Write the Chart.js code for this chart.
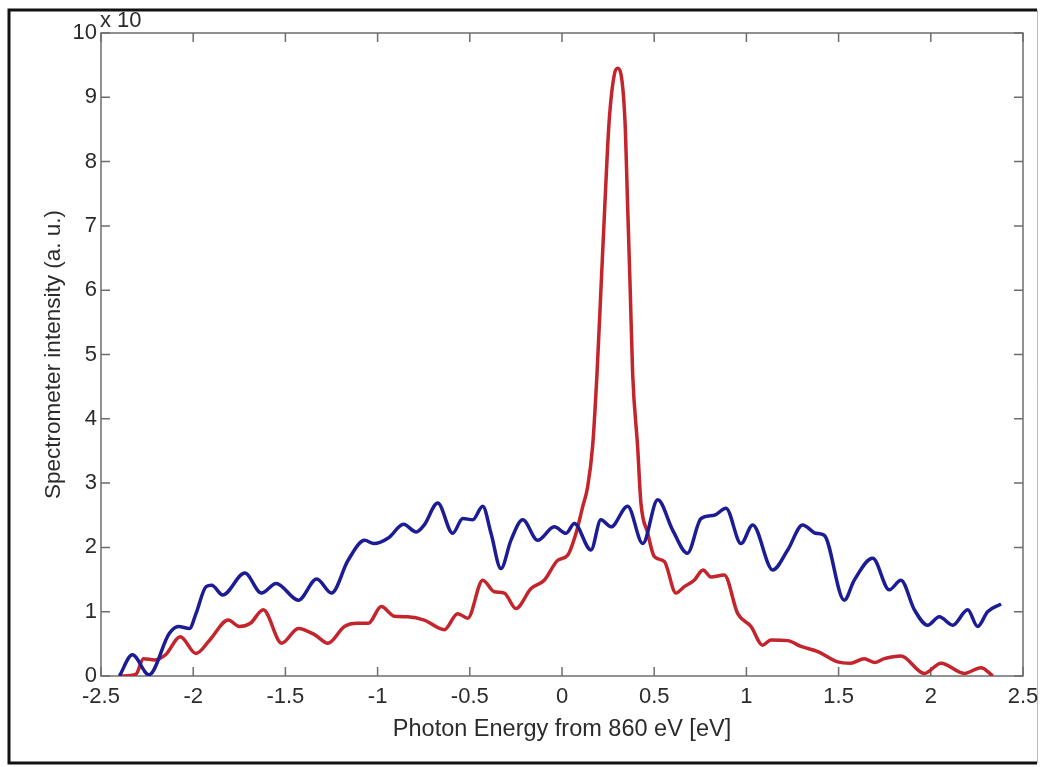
<!DOCTYPE html>
<html>
<head>
<meta charset="utf-8">
<script src="https://cdn.jsdelivr.net/npm/chart.js@4.4.1/dist/chart.umd.min.js"></script>
<style>
  html, body { margin: 0; padding: 0; background: #fff; }
  canvas { display: block; }
</style>
</head>
<body>
<canvas id="c" width="1040" height="767"></canvas>
<script>
// ---- data ----
const xTicks = [-2.5, -2, -1.5, -1, -0.5, 0, 0.5, 1, 1.5, 2, 2.5];
const xTickLabels = ['-2.5', '-2', '-1.5', '-1', '-0.5', '0', '0.5', '1', '1.5', '2', '2.5'];
const yTicks = [0, 1, 2, 3, 4, 5, 6, 7, 8, 9, 10];
const yTickLabels = ['0', '1', '2', '3', '4', '5', '6', '7', '8', '9', '10'];

const blueX = [-2.40, -2.33, -2.24, -2.13, -2.08, -2.02, -1.985, -1.93, -1.90, -1.84, -1.72, -1.63, -1.55, -1.43, -1.33, -1.25, -1.16, -1.07, -1.02, -0.94, -0.86, -0.79, -0.747, -0.674, -0.593, -0.538, -0.484, -0.43, -0.385, -0.331, -0.277, -0.213, -0.132, -0.042, 0.022, 0.067, 0.157, 0.211, 0.266, 0.356, 0.438, 0.519, 0.60, 0.68, 0.754, 0.826, 0.889, 0.971, 1.034, 1.143, 1.224, 1.305, 1.377, 1.422, 1.531, 1.585, 1.685, 1.775, 1.838, 1.911, 1.983, 2.046, 2.119, 2.20, 2.254, 2.308, 2.381];
const blueY = [0.00, 0.33, 0.02, 0.66, 0.77, 0.74, 0.97, 1.39, 1.41, 1.26, 1.60, 1.29, 1.44, 1.18, 1.51, 1.29, 1.80, 2.11, 2.06, 2.15, 2.36, 2.24, 2.35, 2.69, 2.22, 2.45, 2.43, 2.64, 2.22, 1.67, 2.11, 2.43, 2.11, 2.32, 2.22, 2.37, 1.96, 2.43, 2.32, 2.64, 2.06, 2.74, 2.27, 1.91, 2.45, 2.50, 2.61, 2.06, 2.35, 1.65, 1.96, 2.35, 2.22, 2.19, 1.18, 1.49, 1.83, 1.34, 1.49, 1.03, 0.79, 0.92, 0.79, 1.03, 0.77, 1.00, 1.12];

const redX = [-2.39, -2.31, -2.27, -2.21, -2.15, -2.07, -1.985, -1.91, -1.81, -1.75, -1.69, -1.62, -1.52, -1.43, -1.34, -1.27, -1.18, -1.11, -1.05, -0.98, -0.91, -0.837, -0.747, -0.638, -0.566, -0.511, -0.43, -0.367, -0.313, -0.25, -0.168, -0.096, -0.023, 0.031, 0.076, 0.112, 0.139, 0.166, 0.19, 0.211, 0.232, 0.255, 0.285, 0.302, 0.319, 0.342, 0.356, 0.37, 0.383, 0.41, 0.428, 0.465, 0.50, 0.555, 0.618, 0.663, 0.717, 0.765, 0.808, 0.88, 0.953, 1.025, 1.088, 1.133, 1.224, 1.296, 1.387, 1.495, 1.567, 1.639, 1.694, 1.748, 1.838, 1.965, 2.055, 2.182, 2.272, 2.336];
const redY = [0.00, 0.03, 0.27, 0.25, 0.33, 0.61, 0.35, 0.56, 0.87, 0.77, 0.82, 1.03, 0.51, 0.74, 0.64, 0.51, 0.77, 0.82, 0.82, 1.08, 0.93, 0.92, 0.87, 0.72, 0.97, 0.90, 1.49, 1.31, 1.29, 1.05, 1.36, 1.49, 1.80, 1.88, 2.22, 2.63, 2.94, 3.57, 4.71, 6.00, 7.30, 8.60, 9.37, 9.45, 9.37, 8.60, 7.30, 6.00, 4.71, 3.57, 2.69, 2.22, 1.86, 1.78, 1.29, 1.39, 1.49, 1.65, 1.54, 1.57, 0.97, 0.77, 0.48, 0.56, 0.55, 0.46, 0.38, 0.22, 0.20, 0.27, 0.21, 0.27, 0.31, 0.04, 0.20, 0.04, 0.13, 0.00];

const xTitle = 'Photon Energy from 860 eV [eV]';
const yTitle = 'Spectrometer intensity (a. u.)';
const exponentText = 'x 10';

// ---- build ----
const toPts = (xs, ys) => xs.map((x, i) => ({ x: x, y: ys[i] }));
const FONT = '"Liberation Sans", Arial, Helvetica, sans-serif';
const TEXT = '#2b2b2b';
const AXIS = '#6e6e6e';

const boxPlugin = {
  id: 'matlabBox',
  beforeDraw(chart) {
    const ctx = chart.ctx;
    ctx.save();
    ctx.fillStyle = '#ffffff';
    ctx.fillRect(0, 0, chart.width, chart.height);
    // outer frame
    ctx.strokeStyle = '#111';
    ctx.lineWidth = 3;
    ctx.beginPath();
    ctx.moveTo(1037, 10); ctx.lineTo(9, 10); ctx.lineTo(9, 763); ctx.lineTo(1037, 763);
    ctx.stroke();
    ctx.strokeStyle = '#bbb';
    ctx.lineWidth = 1;
    ctx.beginPath();
    ctx.moveTo(1037.5, 10); ctx.lineTo(1037.5, 763);
    ctx.stroke();
    ctx.restore();
  },
  beforeDatasetsDraw(chart) {
    const ctx = chart.ctx;
    const a = chart.chartArea;
    const xs = chart.scales.x, ys = chart.scales.y;
    ctx.save();
    ctx.strokeStyle = AXIS;
    ctx.lineWidth = 1.5;
    ctx.strokeRect(a.left, a.top, a.right - a.left, a.bottom - a.top);
    const tl = 9;
    ctx.beginPath();
    xs.ticks.forEach(t => {
      const px = xs.getPixelForValue(t.value);
      ctx.moveTo(px, a.bottom); ctx.lineTo(px, a.bottom - tl);
      ctx.moveTo(px, a.top); ctx.lineTo(px, a.top + tl);
    });
    ys.ticks.forEach(t => {
      const py = ys.getPixelForValue(t.value);
      ctx.moveTo(a.left, py); ctx.lineTo(a.left + tl, py);
      ctx.moveTo(a.right, py); ctx.lineTo(a.right - tl, py);
    });
    ctx.stroke();
    // exponent label
    ctx.fillStyle = TEXT;
    ctx.font = '22px ' + FONT;
    ctx.textAlign = 'left';
    ctx.textBaseline = 'alphabetic';
    ctx.fillText(exponentText, a.left - 1, a.top - 6);
    ctx.restore();
  }
};

new Chart(document.getElementById('c'), {
  type: 'line',
  data: {
    datasets: [
      {
        data: toPts(blueX, blueY),
        borderColor: '#1c1c94',
        borderWidth: 3.5,
        pointRadius: 0,
        fill: false,
        cubicInterpolationMode: 'monotone'
      },
      {
        data: toPts(redX, redY),
        borderColor: '#c4242b',
        borderWidth: 3.5,
        pointRadius: 0,
        fill: false,
        cubicInterpolationMode: 'monotone'
      }
    ]
  },
  options: {
    responsive: false,
    animation: false,
    events: [],
    layout: { padding: { left: 0, top: 33, right: 17, bottom: 0 } },
    plugins: { legend: { display: false }, tooltip: { enabled: false } },
    scales: {
      x: {
        type: 'linear',
        position: 'bottom',
        min: -2.5,
        max: 2.5,
        afterBuildTicks(s) { s.ticks = xTicks.map(v => ({ value: v })); },
        afterFit(s) { s.height = 91; s.paddingLeft = 0; s.paddingRight = 0; },
        ticks: {
          autoSkip: false,
          maxRotation: 0,
          padding: 8,
          color: TEXT,
          font: { family: FONT, size: 22 },
          callback: (v, i) => xTickLabels[i]
        },
        grid: { display: false, drawTicks: false },
        border: { display: false },
        title: {
          display: true,
          text: xTitle,
          color: TEXT,
          font: { family: FONT, size: 23.5 },
          padding: { top: 0, bottom: 23 }
        }
      },
      y: {
        type: 'linear',
        position: 'left',
        min: 0,
        max: 10,
        afterBuildTicks(s) { s.ticks = yTicks.map(v => ({ value: v })); },
        afterFit(s) { s.width = 101; s.paddingTop = 0; s.paddingBottom = 0; },
        ticks: {
          autoSkip: false,
          padding: 4,
          color: TEXT,
          font: { family: FONT, size: 22 },
          callback: (v, i) => yTickLabels[i]
        },
        grid: { display: false, drawTicks: false },
        border: { display: false },
        title: {
          display: true,
          text: yTitle,
          color: TEXT,
          font: { family: FONT, size: 22.5 },
          padding: { top: 40, bottom: 0 }
        }
      }
    }
  },
  plugins: [boxPlugin]
});
</script>
</body>
</html>
